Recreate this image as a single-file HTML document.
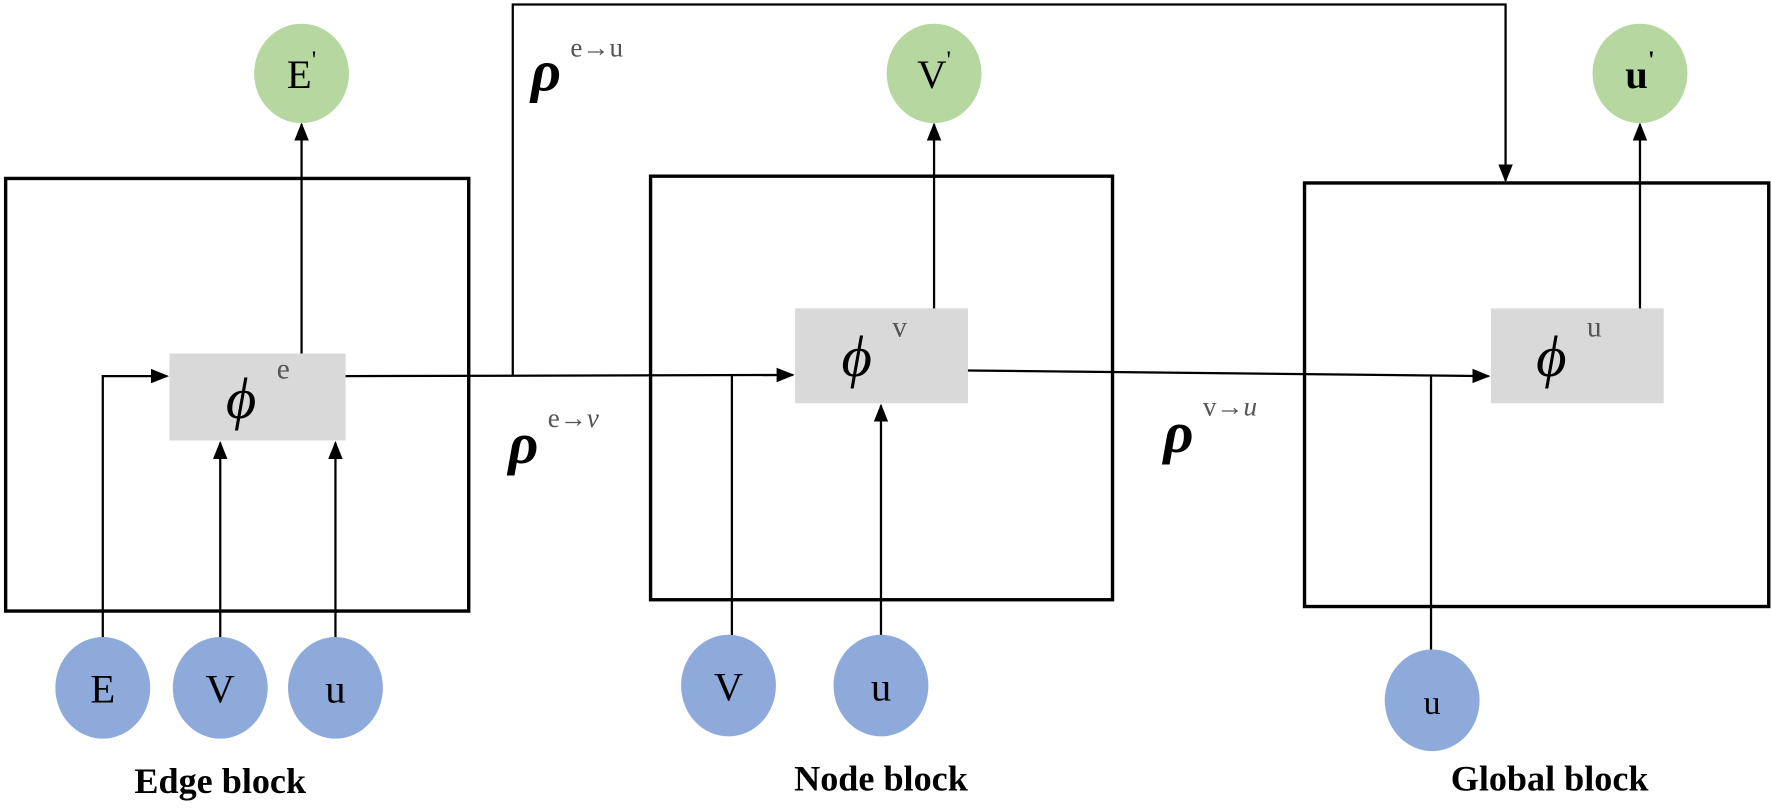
<!DOCTYPE html>
<html><head><meta charset="utf-8"><style>
html,body{margin:0;padding:0;background:#fff;}
svg{display:block;}
.sym{font-family:"Liberation Serif",serif;}
</style></head><body>
<svg width="1771" height="812" viewBox="0 0 1771 812" xmlns="http://www.w3.org/2000/svg">
<defs>
<marker id="b" viewBox="0 0 10 10" refX="9" refY="5" markerWidth="16" markerHeight="16" orient="auto" markerUnits="userSpaceOnUse"><path d="M0,1 L10,5 L0,9 z" fill="#000"/></marker>
</defs>
<g transform="scale(1.12946)">
<g fill="none" stroke="#000" stroke-width="3">
<rect x="5" y="158" width="410" height="383"/>
<rect x="576" y="156" width="409" height="375"/>
<rect x="1155" y="162" width="411" height="375"/>
</g>
<g fill="#d9d9d9">
<rect x="150" y="313" width="156" height="77"/>
<rect x="704" y="273" width="153" height="84"/>
<rect x="1320" y="273" width="153" height="84"/>
</g>
<g stroke="#000" stroke-width="2" fill="none">
<line x1="267" y1="313" x2="267" y2="110" marker-end="url(#b)"/>
<line x1="827" y1="273" x2="827" y2="110" marker-end="url(#b)"/>
<line x1="1452" y1="273" x2="1452" y2="110" marker-end="url(#b)"/>
<line x1="306" y1="333" x2="702" y2="332" marker-end="url(#b)"/>
<line x1="857" y1="328" x2="1318" y2="333" marker-end="url(#b)"/>
<polyline points="454,333 454,4 1333,4 1333,160" marker-end="url(#b)"/>
<polyline points="91,566 91,333 148,333" marker-end="url(#b)"/>
<line x1="195" y1="566" x2="195" y2="392" marker-end="url(#b)"/>
<line x1="297" y1="566" x2="297" y2="392" marker-end="url(#b)"/>
<line x1="648" y1="566" x2="648" y2="332"/>
<line x1="780" y1="566" x2="780" y2="359" marker-end="url(#b)"/>
<line x1="1267" y1="576" x2="1267" y2="333"/>
</g>
<g fill="#b7d7a0">
<ellipse cx="267" cy="65" rx="42" ry="44"/>
<ellipse cx="827" cy="65" rx="42" ry="44"/>
<ellipse cx="1452" cy="65" rx="42" ry="44"/>
</g>
<g fill="#8eaadb">
<ellipse cx="91" cy="609" rx="42" ry="45"/>
<ellipse cx="195" cy="609" rx="42" ry="45"/>
<ellipse cx="297" cy="609" rx="42" ry="45"/>
<ellipse cx="645" cy="607" rx="42" ry="45"/>
<ellipse cx="780" cy="607" rx="42" ry="45"/>
<ellipse cx="1268" cy="620" rx="42" ry="45"/>
</g>
<g class="sym" font-size="36" text-anchor="middle" fill="#000">
<text x="267" y="78">E<tspan font-size="22" dy="-18">'</tspan></text>
<text x="827" y="78">V<tspan font-size="22" dy="-18">'</tspan></text>
<text x="1452" y="78" font-weight="bold">u<tspan font-size="22" dy="-18">'</tspan></text>
<text x="91" y="622">E</text>
<text x="195" y="622">V</text>
<text x="297" y="622">u</text>
<text x="645" y="620">V</text>
<text x="780" y="620">u</text>
<text x="1268" y="632" font-size="30">u</text>
</g>
<g class="sym" fill="#000">
<text x="200" y="370" font-size="52" font-style="italic">ϕ</text>
<text x="245" y="335" font-size="26" fill="#555">e</text>
<text x="745" y="333" font-size="52" font-style="italic">ϕ</text>
<text x="790" y="298" font-size="26" fill="#555">v</text>
<text x="1360" y="333" font-size="52" font-style="italic">ϕ</text>
<text x="1405" y="298" font-size="26" fill="#555">u</text>
<text x="470" y="80" font-size="52" font-style="italic" font-weight="bold">ρ</text>
<text x="505" y="50" font-size="24" fill="#555">e→u</text>
<text x="450" y="410" font-size="52" font-style="italic" font-weight="bold">ρ</text>
<text x="485" y="378" font-size="24" fill="#555">e→<tspan font-style="italic">v</tspan></text>
<text x="1030" y="400" font-size="52" font-style="italic" font-weight="bold">ρ</text>
<text x="1065" y="368" font-size="24" fill="#555">v→<tspan font-style="italic">u</tspan></text>
</g>
<g class="sym" font-size="32" font-weight="bold" text-anchor="middle" fill="#000">
<text x="195" y="702">Edge block</text>
<text x="780" y="700">Node block</text>
<text x="1372" y="700">Global block</text>
</g>
</g>
</svg>
</body></html>
